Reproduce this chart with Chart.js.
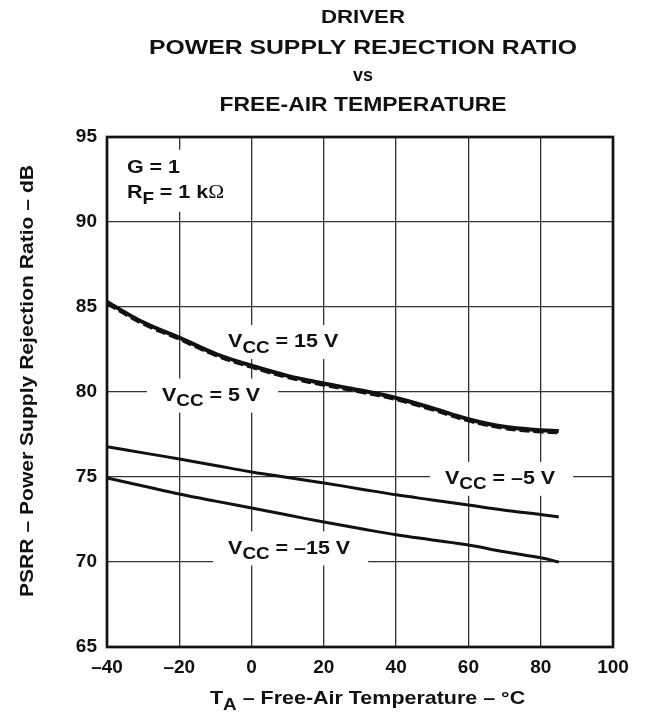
<!DOCTYPE html>
<html>
<head>
<meta charset="utf-8">
<script src="https://cdn.jsdelivr.net/npm/chart.js@4.4.1/dist/chart.umd.min.js"></script>
<style>
  html, body { margin: 0; padding: 0; background: #fff; }
</style>
</head>
<body>
<canvas id="psrrChart" width="646" height="715"></canvas>
<script>
// Datos (PSRR en dB frente a temperatura en °C)
const temps = [-40, -30, -20, -10, 0, 10, 20, 30, 40, 50, 60, 70, 80, 85];
const psrrVcc15 = [85.3, 84.1, 83.2, 82.25, 81.55, 80.95, 80.5, 80.1, 79.65, 79.05, 78.4, 77.95, 77.75, 77.7];
const psrrVcc5 = [85.22, 84.03, 83.13, 82.18, 81.48, 80.88, 80.43, 80.03, 79.58, 78.98, 78.33, 77.88, 77.68, 77.63];
const psrrVccNeg5 = [76.78, 76.42, 76.06, 75.68, 75.3, 74.97, 74.65, 74.3, 73.95, 73.65, 73.35, 73.05, 72.8, 72.65];
const psrrVccNeg15 = [74.94, 74.47, 74.0, 73.58, 73.18, 72.76, 72.35, 71.97, 71.6, 71.3, 71.0, 70.6, 70.25, 70.0];

const xTicks = [-40, -20, 0, 20, 40, 60, 80, 100];
const yTicks = [65, 70, 75, 80, 85, 90, 95];

const FONT = '"Liberation Sans", Arial, sans-serif';
const SX = 1.16; // el original tiene el texto algo ensanchado

function toPoints(values) {
    return temps.map((t, i) => ({ x: t, y: values[i] }));
}

// Texto con subíndices: partes [{t, sub, family, normal}]
function richWidth(ctx, parts, size) {
    let w = 0;
    parts.forEach(p => {
        const sz = p.sub ? size * 0.88 : size;
        ctx.font = (p.normal ? '' : 'bold ') + sz + 'px ' + (p.family || FONT);
        w += ctx.measureText(p.t).width;
    });
    return w * SX;
}

function drawRich(ctx, parts, x, y, size) {
    ctx.save();
    ctx.translate(x, y);
    ctx.scale(SX, 1);
    ctx.fillStyle = '#111';
    ctx.textBaseline = 'alphabetic';
    ctx.textAlign = 'left';
    let cx = 0;
    parts.forEach(p => {
        const sz = p.sub ? size * 0.88 : size;
        ctx.font = (p.normal ? '' : 'bold ') + sz + 'px ' + (p.family || FONT);
        ctx.fillText(p.t, cx, p.sub ? size * 0.3 : 0);
        cx += ctx.measureText(p.t).width;
    });
    ctx.restore();
}

// Texto centrado y ajustado a un ancho dado
function drawFit(ctx, text, cx, baseline, size, width) {
    ctx.save();
    ctx.font = 'bold ' + size + 'px ' + FONT;
    const w = ctx.measureText(text).width;
    ctx.translate(cx, baseline);
    ctx.scale(width / w, 1);
    ctx.fillStyle = '#111';
    ctx.textBaseline = 'alphabetic';
    ctx.textAlign = 'left';
    ctx.fillText(text, -w / 2, 0);
    ctx.restore();
}

function vcc(rest) {
    return [{ t: 'V' }, { t: 'CC', sub: true }, { t: rest }];
}

// Etiquetas de curvas (posición en unidades de datos)
const curveLabels = [
    { parts: vcc(' = 15 V'), x: -6.5, y: 82.65 },
    { parts: vcc(' = 5 V'), x: -24.8, y: 79.5 },
    { parts: vcc(' = \u20135 V'), x: 53.5, y: 74.6 },
    { parts: vcc(' = \u201315 V'), x: -6.5, y: 70.5 }
];
const LABEL_SIZE = 18.5;

const labelsPlugin = {
    id: 'labelsPlugin',
    beforeDatasetsDraw(chart) {
        const ctx = chart.ctx;
        const xs = chart.scales.x, ys = chart.scales.y;
        ctx.save();
        ctx.fillStyle = '#fff';
        curveLabels.forEach(l => {
            const px = xs.getPixelForValue(l.x);
            const py = ys.getPixelForValue(l.y);
            const w = richWidth(ctx, l.parts, LABEL_SIZE);
            ctx.fillRect(px - 15, py - 22, w + 33, 34);
        });
        // caja de G = 1 / RF
        const gx = xs.getPixelForValue(-34.5);
        const gy = ys.getPixelForValue(92.9);
        ctx.fillRect(gx - 16, gy - 23, 135, 62);
        ctx.restore();
    },
    afterDatasetsDraw(chart) {
        const ctx = chart.ctx;
        const xs = chart.scales.x, ys = chart.scales.y;
        curveLabels.forEach(l => {
            drawRich(ctx, l.parts, xs.getPixelForValue(l.x), ys.getPixelForValue(l.y), LABEL_SIZE);
        });
        const gx = xs.getPixelForValue(-34.5);
        drawRich(ctx, [{ t: 'G = 1' }], gx, ys.getPixelForValue(92.9), LABEL_SIZE);
        drawRich(ctx, [{ t: 'R' }, { t: 'F', sub: true }, { t: ' = 1 k' },
            { t: '\u03A9', normal: true, family: '"Liberation Serif", serif' }],
            gx, ys.getPixelForValue(91.4), LABEL_SIZE);
    },
    afterDraw(chart) {
        const ctx = chart.ctx;
        const a = chart.chartArea;
        // marco
        ctx.save();
        ctx.strokeStyle = '#111';
        ctx.lineWidth = 2.7;
        ctx.strokeRect(a.left, a.top, a.right - a.left, a.bottom - a.top);
        ctx.restore();
        // título
        const cx = (a.left + a.right) / 2 + 3;
        drawFit(ctx, 'DRIVER', cx, 23, 18, 84);
        drawFit(ctx, 'POWER SUPPLY REJECTION RATIO', cx, 54, 21, 428);
        drawFit(ctx, 'vs', cx, 81, 17.5, 20);
        drawFit(ctx, 'FREE-AIR TEMPERATURE', cx, 111, 21, 287);
        // eje x
        drawRich(ctx, [{ t: 'T' }, { t: 'A', sub: true }, { t: ' \u2013 Free-Air Temperature \u2013 \u00B0C' }],
            210, 704, 18.5);
        // eje y
        ctx.save();
        ctx.translate(33, 381);
        ctx.rotate(-Math.PI / 2);
        drawFit(ctx, 'PSRR \u2013 Power Supply Rejection Ratio \u2013 dB', 0, 0, 18.8, 432);
        ctx.restore();
    }
};

const ctx = document.getElementById('psrrChart').getContext('2d');
new Chart(ctx, {
    type: 'line',
    data: {
        datasets: [
            {
                label: 'VCC = 15 V',
                data: toPoints(psrrVcc15),
                borderColor: '#111',
                borderWidth: 4,
                pointRadius: 0,
                tension: 0.4,
                order: 0
            },
            {
                label: 'VCC = 5 V',
                data: toPoints(psrrVcc5),
                borderColor: '#111',
                borderWidth: 4,
                borderDash: [10, 4],
                pointRadius: 0,
                tension: 0.4,
                order: 1
            },
            {
                label: 'VCC = -5 V',
                data: toPoints(psrrVccNeg5),
                borderColor: '#111',
                borderWidth: 3,
                pointRadius: 0,
                tension: 0.4,
                order: 2
            },
            {
                label: 'VCC = -15 V',
                data: toPoints(psrrVccNeg15),
                borderColor: '#111',
                borderWidth: 3,
                pointRadius: 0,
                tension: 0.4,
                order: 3
            }
        ]
    },
    options: {
        responsive: false,
        animation: false,
        layout: { padding: { left: 0, top: 137, right: 33, bottom: 0 } },
        plugins: {
            legend: { display: false },
            tooltip: { enabled: false },
            title: { display: false }
        },
        scales: {
            x: {
                type: 'linear',
                min: -40,
                max: 100,
                afterBuildTicks: function(scale) {
                    scale.ticks = xTicks.map(v => ({ value: v }));
                },
                afterFit: function(scale) { scale.height = 68; },
                grid: { color: '#333', lineWidth: 1.3, drawTicks: false },
                border: { display: false },
                ticks: {
                    padding: 9,
                    color: '#111',
                    font: { family: FONT, size: 19, weight: 'bold' },
                    maxRotation: 0,
                    callback: function(value) {
                        return value < 0 ? '\u2013' + Math.abs(value) : '' + value;
                    }
                }
            },
            y: {
                min: 65,
                max: 95,
                afterBuildTicks: function(scale) {
                    scale.ticks = yTicks.map(v => ({ value: v }));
                },
                afterFit: function(scale) { scale.width = 107; },
                grid: { color: '#333', lineWidth: 1.3, drawTicks: false },
                border: { display: false },
                ticks: {
                    padding: 10,
                    color: '#111',
                    font: { family: FONT, size: 19, weight: 'bold' }
                }
            }
        }
    },
    plugins: [labelsPlugin]
});
</script>
</body>
</html>
